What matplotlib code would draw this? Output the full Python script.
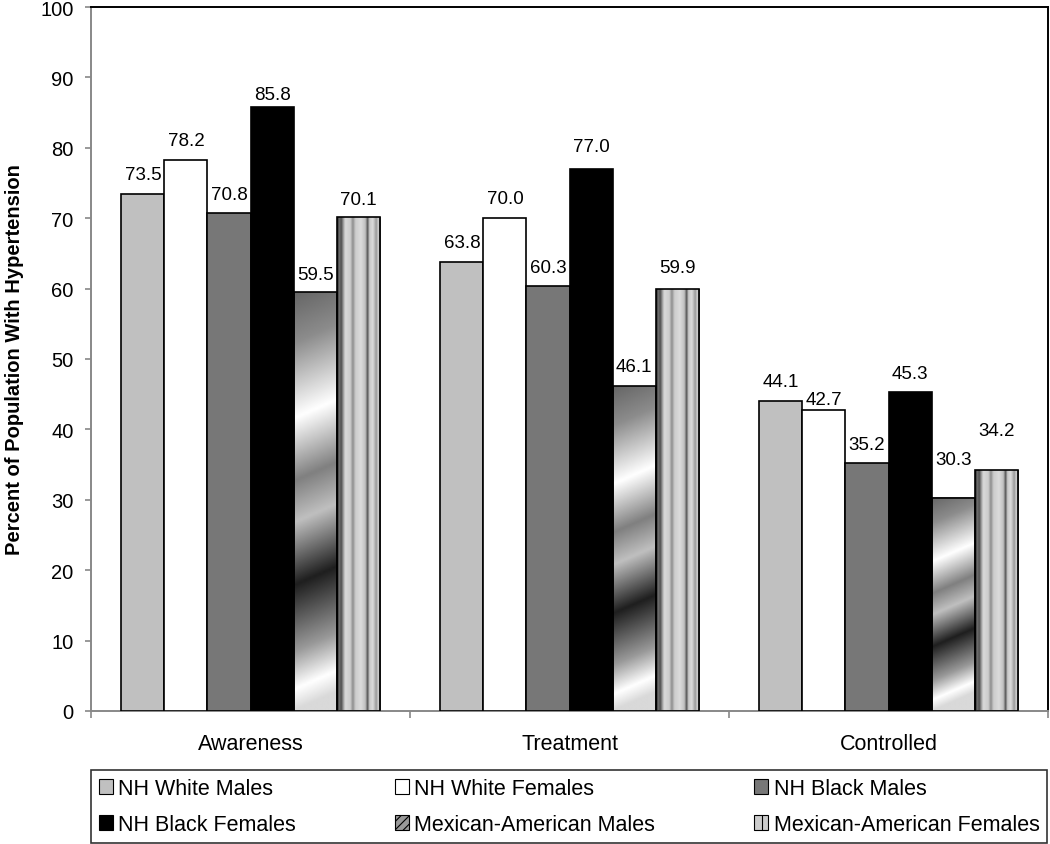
# hypertension awareness / treatment / control bar chart

import numpy as np
import matplotlib
matplotlib.use("Agg")
import matplotlib.pyplot as plt
from matplotlib.patches import Patch

plt.rcParams['font.family'] = ['Liberation Sans', 'DejaVu Sans']
plt.rcParams['hatch.linewidth'] = 0.8

categories = ['Awareness', 'Treatment', 'Controlled']
series = ['NH White Males', 'NH White Females', 'NH Black Males',
          'NH Black Females', 'Mexican-American Males', 'Mexican-American Females']

nh_white_males = [73.5, 63.8, 44.1]
nh_white_females = [78.2, 70.0, 42.7]
nh_black_males = [70.8, 60.3, 35.2]
nh_black_females = [85.8, 77.0, 45.3]
mex_am_males = [59.5, 46.1, 30.3]
mex_am_females = [70.1, 59.9, 34.2]

values = [nh_white_males, nh_white_females, nh_black_males,
          nh_black_females, mex_am_males, mex_am_females]

# styles
colors = ['#c0c0c0', '#ffffff', '#777777', '#000000', None, None]
# how far (px) each value label sits above its bar, per category
label_lift = [[19, 20, 18, 12, 18, 18],
              [19, 20, 19, 22, 20, 22],
              [19, 11, 19, 19, 38, 40]]

# diagonal "chrome" like gradient stops (from top of bar downwards)
grad_pos = [0.0, 0.12, 0.30, 0.45, 0.55, 0.70, 0.86, 0.95, 1.0, 1.1]
grad_val = [0.40, 0.55, 1.00, 0.50, 0.75, 0.12, 0.60, 1.00, 0.85, 0.85]
# vertical stripe profile across bar width
strp_pos = [0.0, 0.05, 0.09, 0.13, 0.18, 0.30, 0.36, 0.42, 0.55, 0.65, 0.70, 0.74, 0.82, 0.90, 0.95, 1.0]
strp_val = [0.15, 0.45, 0.30, 0.55, 0.85, 0.80, 0.55, 0.80, 0.86, 0.75, 0.30, 0.78, 0.86, 0.60, 0.85, 0.30]

fig = plt.figure(figsize=(10.5, 8.45), dpi=100)
ax = fig.add_axes([91/1050, 133/845, 957/1050, 704/845])

x = np.arange(len(categories))
w = 0.135
px_per_unit = 704 / 100.0

for i, vals in enumerate(values):
    pos = x + (i - 2.5) * w
    if colors[i] is not None:
        bars = ax.bar(pos, vals, w, color=colors[i], edgecolor='black', linewidth=1.2, zorder=3)
    else:
        bars = ax.bar(pos, vals, w, fill=False, edgecolor='black', linewidth=1.2, zorder=4)
        for b in bars:
            x0, bw, h = b.get_x(), b.get_width(), b.get_height()
            ny, nx = 200, 60
            xn = np.linspace(0, 1, nx)
            tn = np.linspace(1, 0, ny)  # row 0 = bottom (origin lower)
            if i == 4:
                k = 19.0 / (h * px_per_unit)
                s = tn[:, None] + k * xn[None, :]
                img = np.interp(s, grad_pos, grad_val)
            else:
                prof = np.interp(xn, strp_pos, strp_val)
                img = np.tile(prof, (ny, 1))
            ax.imshow(img, cmap='gray', vmin=0, vmax=1, origin='lower',
                      extent=[x0, x0 + bw, 0, h], aspect='auto',
                      interpolation='bilinear', zorder=2)
    for j, b in enumerate(bars):
        ax.annotate('%.1f' % vals[j], (b.get_x() + b.get_width() / 2, b.get_height()),
                    xytext=(0, label_lift[j][i] * 0.72), textcoords='offset points',
                    ha='center', va='center', fontsize=13.5)

ax.set_xlim(-0.5, 2.5)
ax.set_ylim(0, 100)
ax.set_yticks(range(0, 101, 10))
ax.tick_params(axis='y', labelsize=14.5, length=4.5, width=1.2, color='#888888', pad=8)

ax.set_xticks(x)
ax.set_xticklabels(categories)
ax.set_xticks([-0.5, 0.5, 1.5, 2.5], minor=True)
ax.tick_params(axis='x', which='major', length=0, labelsize=15.5, pad=16)
ax.tick_params(axis='x', which='minor', length=5, width=1.2, color='#888888')

ax.set_ylabel('Percent of Population With Hypertension', fontsize=14.5, fontweight='bold', labelpad=12)

for side in ['left', 'bottom']:
    ax.spines[side].set_color('#888888')
    ax.spines[side].set_linewidth(1.4)
for side in ['top', 'right']:
    ax.spines[side].set_color('black')
    ax.spines[side].set_linewidth(1.4)

handles = [
    Patch(facecolor=colors[0], edgecolor='black', linewidth=0.8),
    Patch(facecolor=colors[1], edgecolor='black', linewidth=0.8),
    Patch(facecolor=colors[2], edgecolor='black', linewidth=0.8),
    Patch(facecolor=colors[3], edgecolor='black', linewidth=0.8),
    Patch(facecolor='#999999', edgecolor='black', linewidth=0.8, hatch='////'),
    Patch(facecolor='#cccccc', edgecolor='black', linewidth=0.8, hatch='||'),
]
order = [0, 3, 1, 4, 2, 5]
leg = fig.legend([handles[o] for o in order], [series[o] for o in order],
                 loc='center', bbox_to_anchor=(91/1050, 2/845, 956/1050, 71/845),
                 mode='expand', ncol=3, fontsize=15.5, frameon=True, fancybox=False,
                 handlelength=0.65, handleheight=0.65, handletextpad=0.25,
                 borderpad=0.35, labelspacing=0.7, borderaxespad=0)
leg.get_frame().set_edgecolor('black')
leg.get_frame().set_linewidth(1.2)

fig.savefig('out.png', dpi=100)
